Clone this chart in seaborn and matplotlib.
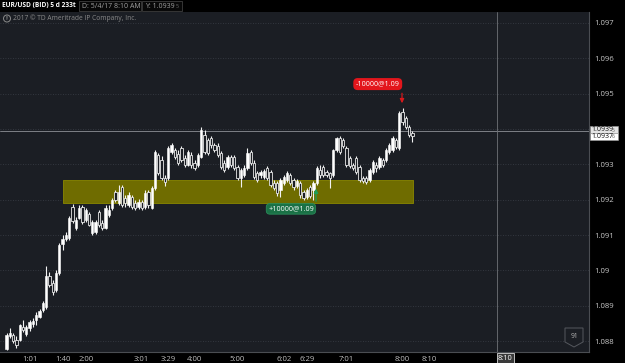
import matplotlib
matplotlib.use("Agg")
import matplotlib.pyplot as plt
from matplotlib.patches import Rectangle, Polygon, Ellipse
import numpy as np
import pandas as pd
import seaborn as sns

# ---------------- data (EUR/USD 233-tick candles) ----------------
opens = [1.08777, 1.08814, 1.08817, 1.08803, 1.08803, 1.08840, 1.08820, 1.08837, 1.08848, 1.08859,
         1.08868, 1.08888, 1.08896, 1.08984, 1.08964, 1.08944, 1.08992, 1.09075, 1.09089, 1.09092,
         1.09179, 1.09120, 1.09148, 1.09179, 1.09142, 1.09159, 1.09106, 1.09108, 1.09165, 1.09134,
         1.09120, 1.09157, 1.09176, 1.09222, 1.09191, 1.09236, 1.09205, 1.09185, 1.09208, 1.09191,
         1.09179, 1.09193, 1.09179, 1.09222, 1.09176, 1.09233, 1.09326, 1.09312, 1.09261, 1.09261,
         1.09335, 1.09341, 1.09329, 1.09346, 1.09318, 1.09298, 1.09326, 1.09304, 1.09298, 1.09321,
         1.09383, 1.09369, 1.09375, 1.09355, 1.09352, 1.09332, 1.09304, 1.09292, 1.09321, 1.09321,
         1.09292, 1.09261, 1.09270, 1.09290, 1.09335, 1.09304, 1.09275, 1.09270, 1.09264, 1.09290,
         1.09278, 1.09247, 1.09247, 1.09227, 1.09247, 1.09256, 1.09270, 1.09256, 1.09239, 1.09247,
         1.09222, 1.09208, 1.09236, 1.09227, 1.09247, 1.09284, 1.09292, 1.09278, 1.09275, 1.09270,
         1.09341, 1.09375, 1.09369, 1.09346, 1.09318, 1.09298, 1.09318, 1.09292, 1.09261, 1.09261,
         1.09256, 1.09278, 1.09298, 1.09292, 1.09312, 1.09312, 1.09335, 1.09341, 1.09369, 1.09346,
         1.09448, 1.09431, 1.09406, 1.09389]
closes = [1.08817, 1.08823, 1.08800, 1.08789, 1.08845, 1.08831, 1.08840, 1.08854, 1.08857, 1.08874,
          1.08885, 1.08908, 1.08984, 1.08958, 1.08939, 1.08992, 1.09072, 1.09089, 1.09100, 1.09148,
          1.09140, 1.09142, 1.09176, 1.09137, 1.09171, 1.09128, 1.09137, 1.09137, 1.09128, 1.09120,
          1.09176, 1.09171, 1.09199, 1.09199, 1.09222, 1.09185, 1.09191, 1.09213, 1.09179, 1.09176,
          1.09193, 1.09176, 1.09219, 1.09185, 1.09233, 1.09335, 1.09275, 1.09261, 1.09250, 1.09346,
          1.09355, 1.09321, 1.09304, 1.09312, 1.09298, 1.09335, 1.09298, 1.09290, 1.09326, 1.09397,
          1.09335, 1.09332, 1.09355, 1.09341, 1.09326, 1.09292, 1.09284, 1.09321, 1.09298, 1.09290,
          1.09261, 1.09284, 1.09290, 1.09332, 1.09304, 1.09264, 1.09256, 1.09278, 1.09281, 1.09261,
          1.09241, 1.09233, 1.09219, 1.09256, 1.09264, 1.09275, 1.09247, 1.09236, 1.09253, 1.09213,
          1.09205, 1.09227, 1.09210, 1.09247, 1.09290, 1.09270, 1.09270, 1.09270, 1.09261, 1.09341,
          1.09375, 1.09335, 1.09352, 1.09298, 1.09295, 1.09290, 1.09278, 1.09256, 1.09253, 1.09250,
          1.09284, 1.09307, 1.09290, 1.09318, 1.09298, 1.09341, 1.09355, 1.09375, 1.09349, 1.09445,
          1.09420, 1.09406, 1.09383, 1.09380]
highs = [1.08823, 1.08837, 1.08823, 1.08814, 1.08848, 1.08859, 1.08845, 1.08859, 1.08865, 1.08882,
         1.08891, 1.08913, 1.09012, 1.08995, 1.08973, 1.09001, 1.09077, 1.09100, 1.09108, 1.09154,
         1.09188, 1.09151, 1.09185, 1.09185, 1.09176, 1.09165, 1.09142, 1.09142, 1.09171, 1.09142,
         1.09185, 1.09185, 1.09205, 1.09227, 1.09241, 1.09241, 1.09213, 1.09222, 1.09213, 1.09199,
         1.09202, 1.09199, 1.09227, 1.09227, 1.09239, 1.09341, 1.09332, 1.09324, 1.09270, 1.09352,
         1.09360, 1.09346, 1.09341, 1.09352, 1.09326, 1.09341, 1.09335, 1.09312, 1.09332, 1.09406,
         1.09397, 1.09375, 1.09380, 1.09360, 1.09360, 1.09338, 1.09312, 1.09326, 1.09326, 1.09326,
         1.09298, 1.09290, 1.09298, 1.09346, 1.09341, 1.09312, 1.09281, 1.09284, 1.09287, 1.09295,
         1.09284, 1.09256, 1.09253, 1.09261, 1.09270, 1.09281, 1.09275, 1.09261, 1.09258, 1.09253,
         1.09227, 1.09233, 1.09241, 1.09253, 1.09295, 1.09298, 1.09298, 1.09284, 1.09278, 1.09343,
         1.09377, 1.09380, 1.09375, 1.09352, 1.09324, 1.09304, 1.09324, 1.09298, 1.09267, 1.09267,
         1.09290, 1.09312, 1.09307, 1.09324, 1.09318, 1.09346, 1.09360, 1.09380, 1.09375, 1.09451,
         1.09459, 1.09437, 1.09411, 1.09394]
lows = [1.08775, 1.08808, 1.08794, 1.08780, 1.08800, 1.08825, 1.08814, 1.08828, 1.08840, 1.08845,
        1.08865, 1.08882, 1.08891, 1.08953, 1.08930, 1.08939, 1.08987, 1.09058, 1.09083, 1.09086,
        1.09134, 1.09114, 1.09145, 1.09131, 1.09137, 1.09125, 1.09100, 1.09103, 1.09123, 1.09114,
        1.09117, 1.09151, 1.09171, 1.09193, 1.09185, 1.09179, 1.09179, 1.09179, 1.09174, 1.09171,
        1.09174, 1.09171, 1.09174, 1.09176, 1.09174, 1.09227, 1.09270, 1.09256, 1.09239, 1.09256,
        1.09329, 1.09315, 1.09298, 1.09307, 1.09292, 1.09295, 1.09290, 1.09284, 1.09292, 1.09318,
        1.09329, 1.09326, 1.09346, 1.09335, 1.09321, 1.09287, 1.09278, 1.09287, 1.09292, 1.09284,
        1.09256, 1.09236, 1.09264, 1.09284, 1.09298, 1.09258, 1.09250, 1.09261, 1.09258, 1.09256,
        1.09236, 1.09227, 1.09210, 1.09208, 1.09241, 1.09250, 1.09241, 1.09227, 1.09233, 1.09205,
        1.09199, 1.09202, 1.09205, 1.09199, 1.09241, 1.09261, 1.09264, 1.09264, 1.09233, 1.09264,
        1.09335, 1.09329, 1.09346, 1.09292, 1.09290, 1.09284, 1.09273, 1.09250, 1.09247, 1.09244,
        1.09250, 1.09273, 1.09278, 1.09287, 1.09292, 1.09307, 1.09329, 1.09335, 1.09343, 1.09341,
        1.09411, 1.09400, 1.09377, 1.09363]

time_tick_pos = [7, 17, 24, 41, 49, 57, 70, 84, 91, 103, 120, 128]
time_tick_labels = ["1:01", "1:40", "2:00", "3:01", "3:29", "4:00", "5:00", "6:02", "6:29", "7:01", "8:00", "8:10"]
price_ticks = [1.088, 1.089, 1.090, 1.091, 1.092, 1.093, 1.094, 1.095, 1.096, 1.097]
price_tick_labels = ["1.088", "1.089", "1.09", "1.091", "1.092", "1.093", "", "1.095", "1.096", "1.097"]

zone_x = [17.1, 123.2]
zone_low, zone_high = 1.09191, 1.09256
buy_idx, buy_label = 94, "+10000@1.09"
sell_idx, sell_label = 120, "-10000@1.09"
cursor_price = 1.09395
cursor_x = 148.6
cursor_time = "8:10"

# ---------------- style ----------------
BG = "#1b1e24"
sns.set_theme(style="dark", rc={"axes.facecolor": BG, "figure.facecolor": "black"})
plt.rcParams["font.family"] = ["Open Sans", "DejaVu Sans"]

W, H = 625, 363
fig = plt.figure(figsize=(W / 100, H / 100), dpi=100)
fig.patch.set_facecolor("black")


def fx(px):
    return px / W


def fy(py):
    return 1 - py / H


ax = fig.add_axes([0, fy(352), fx(589), (352 - 12) / H])
ax.set_facecolor(BG)

df = pd.DataFrame({"open": opens, "high": highs, "low": lows, "close": closes})
df["idx"] = np.arange(len(df))
df["up"] = df["close"] >= df["open"]
df["bottom"] = df[["open", "close"]].min(axis=1)
df["height"] = (df["close"] - df["open"]).abs().clip(lower=0.000015)

# support zone
ax.fill_between(zone_x, zone_low, zone_high, color="#6f6c00", edgecolor="#8a8700",
                linewidth=0.6, zorder=1)

# grid lines
for p in price_ticks:
    ax.axhline(p, color="#3b4049", linestyle=(0, (1, 2)), linewidth=0.6, zorder=0.5)

# wicks
ax.vlines(df["idx"], df["low"], df["high"], color="#f2f2f2", linewidth=0.8, zorder=2)
# bodies
up = df[df["up"]]
dn = df[~df["up"]]
ax.bar(up["idx"], up["height"], bottom=up["bottom"], width=0.72, color="white",
       edgecolor="white", linewidth=0.4, zorder=3)
ax.bar(dn["idx"], dn["height"], bottom=dn["bottom"], width=0.72, color=BG,
       edgecolor="#e8e8e8", linewidth=0.6, zorder=3)

# crosshair
ax.axhline(cursor_price, color="#8d9096", linewidth=0.6, zorder=1.5)
ax.axvline(cursor_x, color="#6f7277", linewidth=0.6, zorder=1.5)

ax.set_xlim(-6.5 / 3.3, (589 - 6.5) / 3.3)
ax.set_ylim(1.08769, 1.09731)

ax.set_xticks(time_tick_pos)
ax.set_xticklabels(time_tick_labels)
ax.set_yticks(price_ticks)
ax.set_yticklabels(price_tick_labels)
ax.yaxis.tick_right()
ax.tick_params(axis="x", length=0, pad=2.6, labelsize=5.6, colors="#bdbdbd")
ax.tick_params(axis="y", length=0, pad=3.5, labelsize=5.6, colors="#c6c6c6")
ax.grid(False)
for s in ["top", "left"]:
    ax.spines[s].set_visible(False)
for s in ["right", "bottom"]:
    ax.spines[s].set_visible(True)
    ax.spines[s].set_color("#4a4d52")
    ax.spines[s].set_linewidth(0.8)

# trade annotations
sell_y = highs[sell_idx]
ax.annotate("", xy=(sell_idx - 0.15, sell_y + 0.00006), xytext=(sell_idx - 0.15, 1.09509),
            arrowprops=dict(arrowstyle="-|>", color="#d7191c", lw=0.9, mutation_scale=6),
            zorder=5)
ax.text(sell_idx - 7.5, 1.09527, sell_label, ha="center", va="center", fontsize=5.2,
        color="white", zorder=6,
        bbox=dict(boxstyle="round,pad=0.25,rounding_size=0.5", fc="#e3161c", ec="#e3161c"))

buy_y = lows[buy_idx]
ax.annotate("", xy=(buy_idx - 0.2, buy_y - 0.00002), xytext=(buy_idx - 0.2, 1.09188),
            arrowprops=dict(arrowstyle="-|>", color="#1e9e55", lw=0.9, mutation_scale=6),
            zorder=5)
ax.text(buy_idx - 7.8, 1.09174, buy_label, ha="center", va="center", fontsize=5.2,
        color="white", zorder=6,
        bbox=dict(boxstyle="round,pad=0.25,rounding_size=0.5", fc="#1a7146", ec="#2a8c5a", lw=0.6))

# ---------------- chrome ----------------
fig.text(fx(2), fy(6), "EUR/USD (BID) 5 d 233t", fontsize=4.7, weight="bold", color="white",
         va="center", ha="left")
fig.add_artist(Rectangle((fx(79), fy(11)), fx(62), 10 / H, transform=fig.transFigure,
                         facecolor="#080808", edgecolor="#3e3e3e", linewidth=0.6))
fig.text(fx(82), fy(6), "D: 5/4/17 8:10 AM", fontsize=5.0, color="#a0a0a0", va="center")
fig.add_artist(Rectangle((fx(142), fy(11)), fx(40), 10 / H, transform=fig.transFigure,
                         facecolor="#080808", edgecolor="#3e3e3e", linewidth=0.6))
fig.text(fx(145), fy(6), "Y: 1.0939", fontsize=5.0, color="#a0a0a0", va="center")
fig.text(fx(176), fy(7), "5", fontsize=3.8, color="#707070", va="center")

# info icon (circle with "!") and copyright
fig.add_artist(Ellipse((fx(7), fy(18.5)), 7 / W, 7 / H, transform=fig.transFigure,
                       facecolor="none", edgecolor="#8a8a8a", linewidth=0.7))
fig.text(fx(7), fy(18.3), "!", fontsize=4.5, color="#8a8a8a", va="center", ha="center",
         weight="bold")
fig.text(fx(13), fy(18.5), "2017 © TD Ameritrade IP Company, Inc.", fontsize=4.8,
         color="#8a8a8a", va="center")

# price boxes on the right axis
fig.add_artist(Rectangle((fx(590), fy(133)), fx(28), 7 / H, transform=fig.transFigure,
                         facecolor="#e4e4e4", edgecolor="#9a9a9a", linewidth=0.4, zorder=10))
fig.text(fx(591), fy(129.5), "1.0939", fontsize=5.0, color="#111111", va="center", zorder=11)
fig.text(fx(611.5), fy(130), "5", fontsize=3.6, color="#555555", va="center", zorder=11)
fig.add_artist(Rectangle((fx(590), fy(140)), fx(28), 7 / H, transform=fig.transFigure,
                         facecolor="white", edgecolor="#9a9a9a", linewidth=0.4, zorder=10))
fig.text(fx(591), fy(136.5), "1.0937", fontsize=5.0, color="#111111", va="center", zorder=11)
fig.text(fx(611.5), fy(137), "6", fontsize=3.6, color="#555555", va="center", zorder=11)

# cursor time label
fig.text(fx(505.5), fy(358), cursor_time, fontsize=5.4, color="white", ha="center", va="center",
         bbox=dict(boxstyle="square,pad=0.15", fc="#3a3a3a", ec="#d8d8d8", lw=0.6))

# badge "91"
fig.add_artist(Polygon([(fx(565), fy(328)), (fx(583), fy(328)), (fx(583), fy(342)),
                        (fx(574), fy(347)), (fx(565), fy(342))], closed=True,
                       transform=fig.transFigure, facecolor=BG, edgecolor="#55585e",
                       linewidth=0.7, zorder=10))
fig.text(fx(574), fy(336.5), "91", fontsize=4.8, color="#b8b8b8", ha="center", va="center",
         zorder=11)

fig.savefig("out.png", dpi=100, facecolor="black")
